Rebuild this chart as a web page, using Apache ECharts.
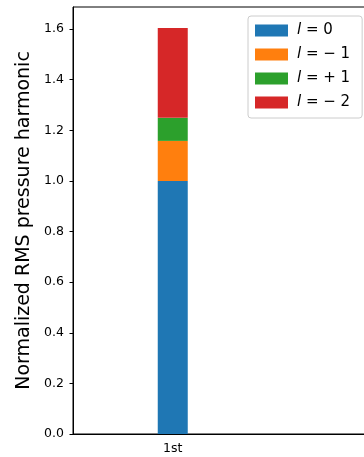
<!DOCTYPE html>
<html>
<head>
<meta charset="utf-8">
<script src="https://cdn.jsdelivr.net/npm/echarts@6/dist/echarts.min.js"></script>
<style>
  html, body { margin: 0; padding: 0; background: #fff; }
  #chart { width: 364px; height: 457px; }
</style>
</head>
<body>
<div id="chart"></div>
<script>
// Harmonic categories (a blank slot keeps the bar left of centre)
const categories = ['1st', ''];
// Contribution of each mode, stacked into one bar
const modeNames = ['l0', 'lm1', 'lp1', 'lm2'];
const modeLabels = ['{i|l} = 0', '{i|l} = \u2212 1', '{i|l} = + 1', '{i|l} = \u2212 2'];
const modeColors = ['#1f77b4', '#ff7f0e', '#2ca02c', '#d62728'];
const valuesL0 = [1.0];
const valuesLm1 = [0.158];
const valuesLp1 = [0.091];
const valuesLm2 = [0.355];
const yTicks = { min: 0, max: 1.687, interval: 0.2 };

const seriesValues = [valuesL0, valuesLm1, valuesLp1, valuesLm2];
const labelByName = {};
modeNames.forEach((n, i) => { labelByName[n] = modeLabels[i]; });

const font = 'DejaVu Sans';
const chart = echarts.init(document.getElementById('chart'), null, { renderer: 'canvas' });

chart.setOption({
  animation: false,
  backgroundColor: '#fff',
  textStyle: { fontFamily: font },
  grid: {
    left: 73, top: 7, bottom: 23, right: -108,
    outerBoundsMode: 'none', containLabel: false,
    show: true, borderColor: '#000', borderWidth: 1, backgroundColor: 'transparent'
  },
  legend: {
    orient: 'vertical',
    left: 248, top: 16,
    padding: [7, 12, 8, 7],
    itemWidth: 33, itemHeight: 12, itemGap: 9,
    borderColor: '#cccccc', borderWidth: 1, borderRadius: 3,
    backgroundColor: '#fff',
    icon: 'rect',
    data: modeNames,
    formatter: name => labelByName[name],
    textStyle: {
      fontFamily: font, fontSize: 15, color: '#000', lineHeight: 12, padding: [0, 0, 0, 4],
      rich: { i: { fontStyle: 'italic', fontFamily: font, fontSize: 15, color: '#000' } }
    }
  },
  xAxis: {
    type: 'category',
    data: categories,
    axisLine: { lineStyle: { color: '#000', width: 1 } },
    axisTick: { alignWithLabel: true, length: 3.5, lineStyle: { color: '#000' },
      interval: (i) => categories[i] !== '' },
    axisLabel: { color: '#000', fontSize: 12.5, fontFamily: font, margin: 8 },
    splitLine: { show: false }
  },
  yAxis: {
    type: 'value',
    min: yTicks.min, max: yTicks.max, interval: yTicks.interval,
    name: 'Normalized RMS pressure harmonic',
    nameLocation: 'middle', nameGap: 34, nameRotate: 90,
    nameTextStyle: { fontSize: 19, color: '#000', fontFamily: font },
    axisLine: { show: true, lineStyle: { color: '#000', width: 1 } },
    axisTick: { show: true, length: 3.5, lineStyle: { color: '#000' } },
    axisLabel: { color: '#000', fontSize: 12.5, fontFamily: font, margin: 9,
      showMaxLabel: false, formatter: v => v.toFixed(1) },
    splitLine: { show: false }
  },
  series: modeNames.map((n, i) => ({
    name: n,
    type: 'bar',
    stack: 'total',
    barWidth: 30,
    itemStyle: { color: modeColors[i] },
    data: seriesValues[i]
  }))
});
</script>
</body>
</html>
